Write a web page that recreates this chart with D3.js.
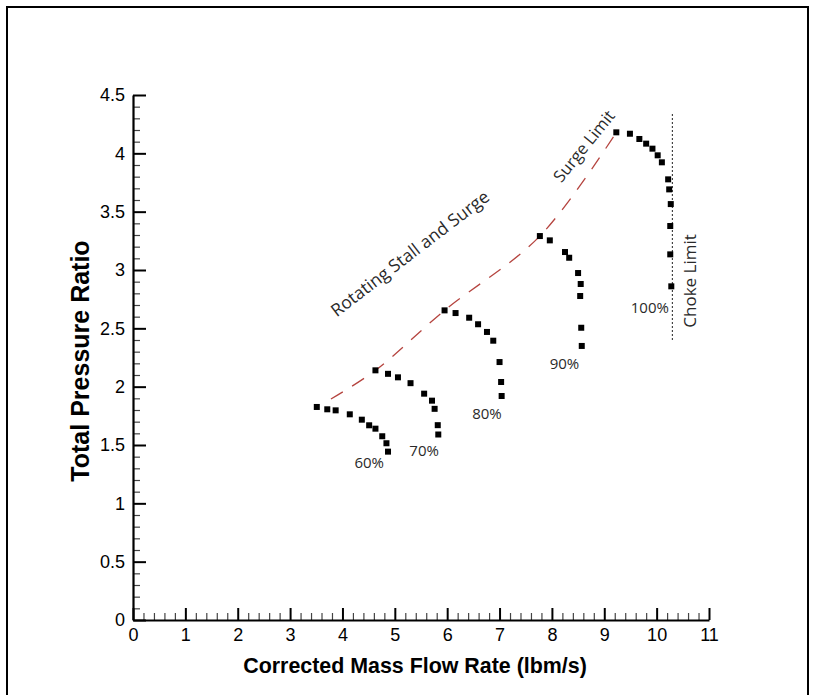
<!DOCTYPE html>
<html>
<head>
<meta charset="utf-8">
<script src="https://cdn.jsdelivr.net/npm/d3@7"></script>
<style>
  html, body { margin: 0; padding: 0; background: #fff; }
  svg { display: block; }
</style>
</head>
<body>
<svg id="chart" width="814" height="695"></svg>
<script>
// Compressor map: corrected mass flow (lbm/s) vs total pressure ratio

const speedLabels = ["60%", "70%", "80%", "90%", "100%"];

const flow60 = [3.51, 3.71, 3.87, 4.14, 4.37, 4.51, 4.63, 4.76, 4.84, 4.87];
const pr60   = [1.826, 1.806, 1.797, 1.763, 1.717, 1.669, 1.640, 1.575, 1.515, 1.443];

const flow70 = [4.63, 4.87, 5.06, 5.30, 5.56, 5.71, 5.76, 5.82, 5.83];
const pr70   = [2.14, 2.11, 2.08, 2.03, 1.94, 1.88, 1.81, 1.67, 1.59];

const flow80 = [5.95, 6.16, 6.42, 6.59, 6.76, 6.88, 7.00, 7.03, 7.04];
const pr80   = [2.654, 2.631, 2.591, 2.535, 2.469, 2.394, 2.211, 2.040, 1.920];

const flow90 = [7.77, 7.96, 8.25, 8.33, 8.50, 8.55, 8.54, 8.56, 8.57];
const pr90   = [3.291, 3.254, 3.154, 3.105, 2.974, 2.880, 2.777, 2.505, 2.349];

const flow100 = [9.23, 9.49, 9.67, 9.80, 9.92, 10.02, 10.10, 10.22, 10.24, 10.27, 10.26, 10.26, 10.28];
const pr100   = [4.180, 4.168, 4.123, 4.083, 4.040, 3.983, 3.923, 3.777, 3.691, 3.565, 3.377, 3.134, 2.860];

// Speed-line label anchors (flow, pressure ratio)
const labelFlow = [4.51, 5.56, 6.76, 8.24, 9.87];
const labelPR   = [1.303, 1.408, 1.723, 2.151, 2.634];

// Surge line through the stall points of each speed line
const surgeFlow = [3.78, 4.63, 5.95, 7.77, 9.23];
const surgePR   = [1.894, 2.14, 2.654, 3.291, 4.180];

// Choke limit
const chokeFlow = 10.30;
const chokePR   = [2.40, 4.34];

const xTicks = [0, 1, 2, 3, 4, 5, 6, 7, 8, 9, 10, 11];
const yTicks = [0, 0.5, 1, 1.5, 2, 2.5, 3, 3.5, 4, 4.5];

const svg = d3.select("#chart");

// outer frame
svg.append("rect")
  .attr("x", 7).attr("y", 7)
  .attr("width", 801).attr("height", 700)
  .attr("fill", "none").attr("stroke", "#000").attr("stroke-width", 2);

const x = d3.scaleLinear().domain([0, 11]).range([133, 709]);
const y = d3.scaleLinear().domain([0, 4.5]).range([620, 95]);

const axisFont = "'Liberation Sans', Arial, sans-serif";
const noteFont = "'Open Sans', sans-serif";

// minor ticks
const xMinor = d3.range(0, 11.0001, 0.2).filter(v => Math.abs(v - Math.round(v)) > 1e-6);
const yMinor = d3.range(0, 4.5001, 0.1).filter(v => Math.abs(v * 2 - Math.round(v * 2)) > 1e-6);

const gx = svg.append("g").attr("transform", `translate(0,${y(0)})`);
gx.call(d3.axisBottom(x).tickValues(xMinor).tickSizeInner(-7).tickSizeOuter(0).tickFormat(""))
  .call(g => g.select(".domain").remove())
  .call(g => g.selectAll(".tick line").attr("stroke", "#444").attr("stroke-width", 1.2));
const gxMaj = svg.append("g").attr("transform", `translate(0,${y(0)})`);
gxMaj.call(d3.axisBottom(x).tickValues(xTicks).tickSizeInner(-12).tickSizeOuter(0).tickPadding(8).tickFormat(d3.format("d")))
  .call(g => g.select(".domain").attr("stroke", "#000").attr("stroke-width", 2.2))
  .call(g => g.selectAll(".tick line").attr("stroke", "#000").attr("stroke-width", 2))
  .call(g => g.selectAll(".tick text").attr("font-family", axisFont).attr("font-size", 18).attr("fill", "#000"));

const gy = svg.append("g").attr("transform", `translate(${x(0)},0)`);
gy.call(d3.axisLeft(y).tickValues(yMinor).tickSizeInner(-7).tickSizeOuter(0).tickFormat(""))
  .call(g => g.select(".domain").remove())
  .call(g => g.selectAll(".tick line").attr("stroke", "#444").attr("stroke-width", 1.2));
const gyMaj = svg.append("g").attr("transform", `translate(${x(0)},0)`);
gyMaj.call(d3.axisLeft(y).tickValues(yTicks).tickSizeInner(-13).tickSizeOuter(0).tickPadding(8).tickFormat(d => d3.format("")(d)))
  .call(g => g.select(".domain").attr("stroke", "#000").attr("stroke-width", 2.2))
  .call(g => g.selectAll(".tick line").attr("stroke", "#000").attr("stroke-width", 2))
  .call(g => g.selectAll(".tick text").attr("font-family", axisFont).attr("font-size", 18).attr("fill", "#000"));

// axis titles
svg.append("text")
  .attr("x", (x(0) + x(11)) / 2 - 6).attr("y", 673)
  .attr("text-anchor", "middle")
  .attr("font-family", axisFont).attr("font-weight", "bold").attr("font-size", 21.4)
  .text("Corrected Mass Flow Rate (lbm/s)");

svg.append("text")
  .attr("transform", "translate(89,361) rotate(-90)")
  .attr("text-anchor", "middle")
  .attr("font-family", axisFont).attr("font-weight", "bold").attr("font-size", 25)
  .text("Total Pressure Ratio");

// surge line
const surgePts = surgeFlow.map((f, i) => [f, surgePR[i]]);
svg.append("path")
  .attr("d", d3.line().x(d => x(d[0])).y(d => y(d[1])).curve(d3.curveCatmullRom.alpha(0.5))(surgePts))
  .attr("fill", "none").attr("stroke", "#b5443f").attr("stroke-width", 1.3)
  .attr("stroke-dasharray", "14,11");

// choke line
svg.append("line")
  .attr("x1", x(chokeFlow)).attr("x2", x(chokeFlow))
  .attr("y1", y(chokePR[0])).attr("y2", y(chokePR[1]))
  .attr("stroke", "#222").attr("stroke-width", 1).attr("stroke-dasharray", "2,2");

// speed lines (square markers)
const series = [
  [flow60, pr60], [flow70, pr70], [flow80, pr80], [flow90, pr90], [flow100, pr100]
];
const sq = 6;
series.forEach(([fl, pr]) => {
  svg.append("g").selectAll("rect")
    .data(fl.map((f, i) => [f, pr[i]]))
    .join("rect")
    .attr("x", d => x(d[0]) - sq / 2).attr("y", d => y(d[1]) - sq / 2)
    .attr("width", sq).attr("height", sq)
    .attr("fill", "#000");
});

// speed labels
svg.append("g").selectAll("text")
  .data(speedLabels)
  .join("text")
  .attr("x", (d, i) => x(labelFlow[i])).attr("y", (d, i) => y(labelPR[i]))
  .attr("text-anchor", "middle")
  .attr("font-family", noteFont).attr("font-size", 15).attr("fill", "#2a2a2a")
  .text(d => d);

// annotations
svg.append("text")
  .attr("transform", `translate(${x(5.36)},${y(3.10)}) rotate(-37.5)`)
  .attr("text-anchor", "middle")
  .attr("font-family", noteFont).attr("font-size", 17.5).attr("fill", "#2a2a2a")
  .text("Rotating Stall and Surge");

svg.append("text")
  .attr("transform", `translate(${x(8.70)},${y(4.03)}) rotate(-51)`)
  .attr("text-anchor", "middle")
  .attr("font-family", noteFont).attr("font-size", 16.5).attr("fill", "#2a2a2a")
  .text("Surge Limit");

svg.append("text")
  .attr("transform", `translate(${x(10.75)},${y(2.906)}) rotate(-90)`)
  .attr("text-anchor", "middle")
  .attr("font-family", noteFont).attr("font-size", 17).attr("fill", "#2a2a2a")
  .text("Choke Limit");
</script>
</body>
</html>
